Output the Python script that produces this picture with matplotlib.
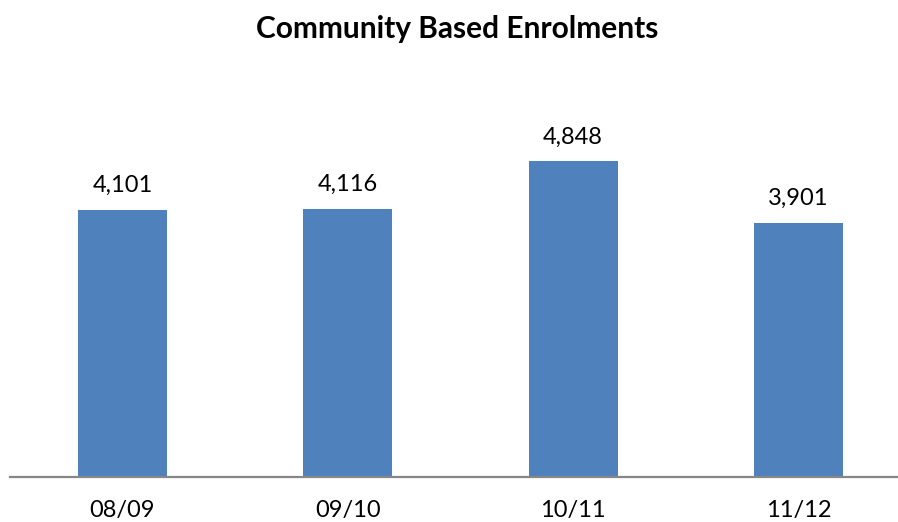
import matplotlib
matplotlib.use('Agg')
import matplotlib.pyplot as plt

plt.rcParams['font.family'] = ['Lato', 'DejaVu Sans']

years = ['08/09', '09/10', '10/11', '11/12']
enrolments = [4101, 4116, 4848, 3901]

W, H = 898, 522
fig = plt.figure(figsize=(W / 100, H / 100), dpi=100)
# axis spans one category band per bar; the right band runs past the edge
left, right = 9.75, 911.0
bottom, top = 477.0, 85.9
ax = fig.add_axes([left / W, (H - bottom) / H, (right - left) / W, (bottom - top) / H])

x = list(range(len(years)))
bars = ax.bar(x, enrolments, width=0.395, color='#4F81BD', zorder=2)
ax.set_xlim(-0.5, 3.5)
ax.set_ylim(0, 6000)

for b, v in zip(bars, enrolments):
    ax.annotate(f'{v:,}', (b.get_x() + b.get_width() / 2, v), xytext=(0, 24),
                textcoords='offset pixels', ha='center', va='center', fontsize=17)

# category labels placed under the axis line
ax.set_xticks([])
for xi, lab in zip(x, years):
    ax.annotate(lab, (xi, 0), xytext=(0, -33), textcoords='offset pixels',
                ha='center', va='center', fontsize=17, annotation_clip=False)

ax.set_yticks([])
for s in ['left', 'right', 'top']:
    ax.spines[s].set_visible(False)
ax.spines['bottom'].set_color('#878787')
ax.spines['bottom'].set_linewidth(1.6)
ax.spines['bottom'].set_zorder(3)

fig.text(457 / W, 1 - 29 / H, 'Community Based Enrolments', ha='center', va='center',
         fontsize=21.5, fontweight='bold')

fig.savefig('out.png', dpi=100)
